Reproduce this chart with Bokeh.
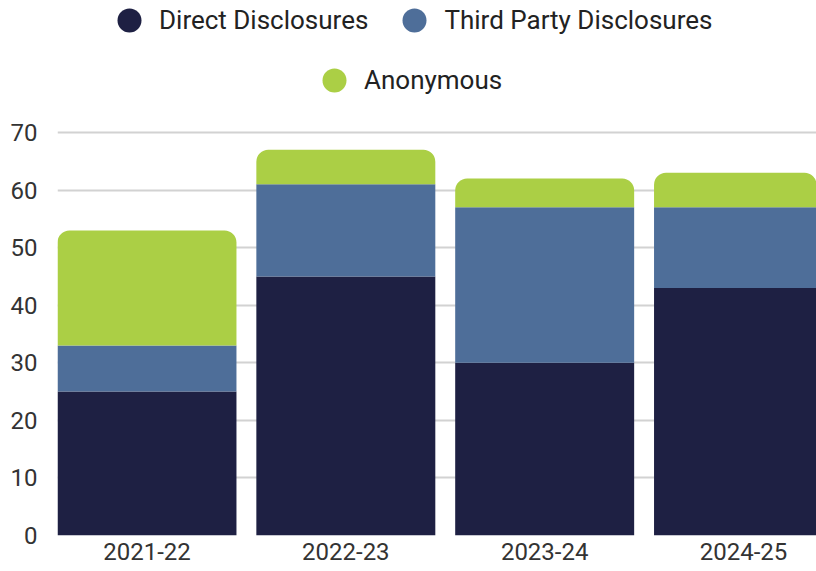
import numpy as np
from bokeh.plotting import figure
from bokeh.models import ColumnDataSource, Legend, LegendItem, FixedTicker, Range1d
from bokeh.transform import stack
from bokeh.embed import file_html
from bokeh.resources import INLINE

years = ["2021-22", "2022-23", "2023-24", "2024-25"]
direct = [25, 45, 30, 43]
third_party = [8, 16, 27, 14]
anonymous = [20, 6, 5, 6]
y_ticks = [0, 10, 20, 30, 40, 50, 60, 70]

colors = {"direct": "#1e2043", "third": "#4e6e99", "anon": "#abcf45"}
FONT = "Roboto"

src = ColumnDataSource(dict(x=list(range(len(years))), direct=direct,
                            third=third_party, anon=anonymous))

p = figure(width=816, height=568, output_backend="svg", toolbar_location=None,
           x_range=Range1d(-0.45, 3.367), y_range=Range1d(0, 92.93),
           min_border_left=57, min_border_right=0, min_border_bottom=33,
           min_border_top=0)

r1 = p.vbar(x="x", width=0.9, bottom=0, top=stack("direct"), source=src,
            fill_color=colors["direct"], line_color=None)
r2 = p.vbar(x="x", width=0.9, bottom=stack("direct"), top=stack("direct", "third"),
            source=src, fill_color=colors["third"], line_color=None)
r3 = p.vbar(x="x", width=0.9, bottom=stack("direct", "third"),
            top=stack("direct", "third", "anon"), source=src,
            fill_color=colors["anon"], line_color=None, border_radius=(12, 12, 0, 0))

# circle legend glyphs (not drawn in the plot: NaN coordinates)
def dummy():
    return ColumnDataSource(dict(x=[np.nan], y=[np.nan]))
l1 = p.scatter(x="x", y="y", source=dummy(), marker="circle", fill_color=colors["direct"], line_color=None)
l2 = p.scatter(x="x", y="y", source=dummy(), marker="circle", fill_color=colors["third"], line_color=None)
l3 = p.scatter(x="x", y="y", source=dummy(), marker="circle", fill_color=colors["anon"], line_color=None)

def make_legend(items, loc):
    return Legend(items=items, orientation="horizontal", location=loc,
                  border_line_color=None, background_fill_alpha=0,
                  label_text_font=FONT, label_text_font_size="26px",
                  label_text_color="#222222", glyph_width=60, glyph_height=60,
                  label_height=28, label_standoff=0, spacing=16,
                  margin=0, padding=0)

leg1 = make_legend([LegendItem(label="Direct Disclosures", renderers=[l1]),
                    LegendItem(label="Third Party Disclosures", renderers=[l2])], (42, 485))
leg2 = make_legend([LegendItem(label="Anonymous", renderers=[l3])], (247, 425))
p.add_layout(leg1)
p.add_layout(leg2)

p.yaxis.ticker = FixedTicker(ticks=y_ticks)
p.ygrid.ticker = FixedTicker(ticks=y_ticks[1:])
p.ygrid.grid_line_color = "#d2d2d2"
p.ygrid.grid_line_width = 2
p.xgrid.grid_line_color = None
p.outline_line_color = None

p.xaxis.ticker = FixedTicker(ticks=list(range(len(years))))
p.xaxis.major_label_overrides = {i: y for i, y in enumerate(years)}

for ax in (p.xaxis, p.yaxis):
    ax.axis_line_color = None
    ax.major_tick_line_color = None
    ax.minor_tick_line_color = None
    ax.major_tick_out = 0
    ax.major_tick_in = 0
    ax.major_label_text_font = FONT
    ax.major_label_text_font_size = "24px"
    ax.major_label_text_color = "#333333"
p.yaxis.major_label_standoff = 20
p.xaxis.major_label_standoff = 7

open("out.html", "w").write(file_html(p, INLINE))
